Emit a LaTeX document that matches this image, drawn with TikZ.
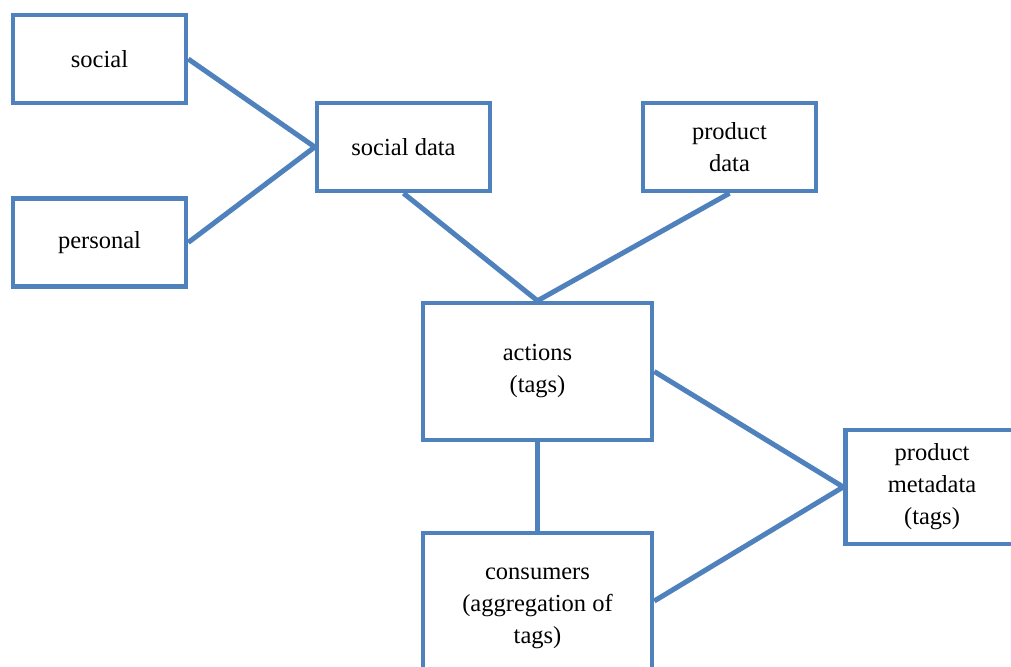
\documentclass[tikz,border=0pt]{standalone}
\usepackage{fontspec}
\setmainfont{Liberation Serif}
\usetikzlibrary{positioning}
\definecolor{boxblue}{HTML}{4F81BD}
\tikzstyle{blk}=[draw=boxblue, line width=4.5pt, fill=white, align=center,
  inner sep=0pt, font=\fontsize{24.5}{32}\selectfont]
\tikzstyle{link}=[draw=boxblue, line width=5pt]

\begin{document}
\begin{tikzpicture}[x=1pt, y=-1pt,
  small/.style={blk, minimum width=173pt, minimum height=88pt},
  big/.style={blk, minimum width=229pt, minimum height=137pt}]
\useasboundingbox (0,0) rectangle (1011,666);
\clip (0,0) rectangle (1011,666);
\fill[white] (0,0) rectangle (1011,666);
\node[small] (soc)   at (99.5,59)    {social};
\node[small] (pers)  at (99.5,242.5) {personal};
\node[small] (sdata) at (403.5,147)  {social data};
\node[small] (pdata) at (729.5,147)  {product\\data};
\node[big]   (act)   at (537.5,371.5) {actions\\(tags)};
\node[big, minimum height=150pt] (cons) at (537.5,608) {consumers\\(aggregation of\\tags)};
\node[small, minimum height=114pt] (meta) at (932,487) {product\\metadata\\(tags)};
\draw[link] (soc.east) -- (sdata.west);
\draw[link] (pers.east) -- (sdata.west);
\draw[link] (sdata.south) -- (act.north);
\draw[link] (pdata.south) -- (act.north);
\draw[link] (act.east) -- (meta.west);
\draw[link] ([yshift=7pt]cons.east) -- (meta.west);
\draw[link] (act.south) -- (cons.north);
\end{tikzpicture}
\end{document}
